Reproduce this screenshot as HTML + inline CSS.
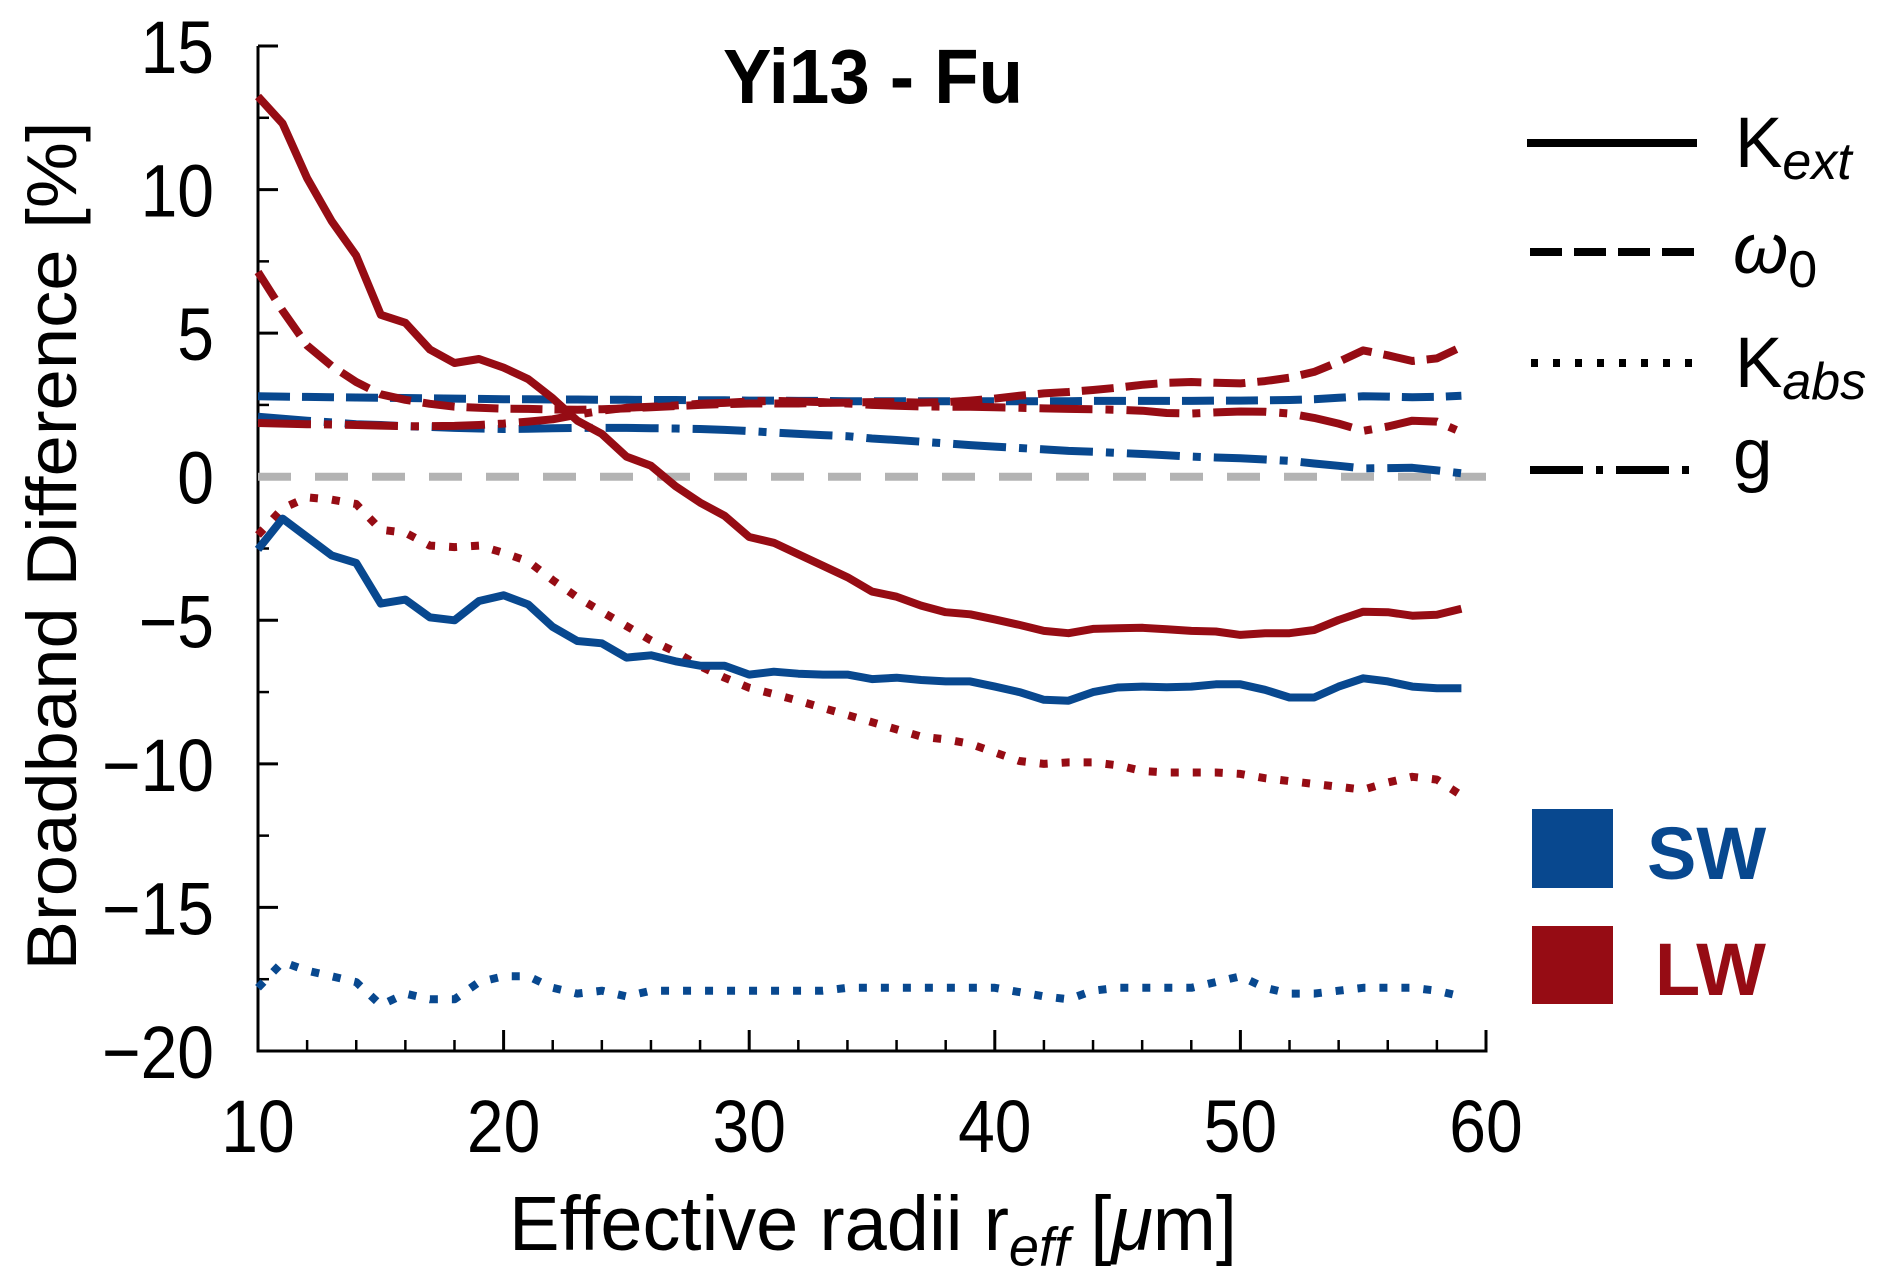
<!DOCTYPE html>
<html><head><meta charset="utf-8"><style>
html,body{margin:0;padding:0;background:#fff;}
svg{display:block;}
text{font-family:"Liberation Sans",Arial,sans-serif;}
</style></head><body>
<svg id="chart" width="1892" height="1280" viewBox="0 0 1892 1280" xmlns="http://www.w3.org/2000/svg">
<g id="axes"></g>
<g id="series"></g>
<text transform="translate(873,103) scale(1,1.1)" text-anchor="middle" font-size="70" font-weight="bold" textLength="300" lengthAdjust="spacingAndGlyphs">Yi13 - Fu</text>
<text transform="translate(76,546) rotate(-90) scale(1,1.1)" text-anchor="middle" font-size="64" textLength="849" lengthAdjust="spacingAndGlyphs">Broadband Difference [%]</text>
<text transform="translate(873,1250) scale(1,1.1)" text-anchor="middle" font-size="70" textLength="728" lengthAdjust="spacingAndGlyphs">Effective radii r<tspan font-style="italic" font-size="50" dy="14">eff</tspan><tspan dy="-14"> [</tspan><tspan font-style="italic">μ</tspan>m]</text>
<g font-family="DejaVu Sans, sans-serif">
  <line x1="1527" y1="143" x2="1697" y2="143" stroke="#000" stroke-width="8"/>
  <text x="1735" y="167" font-size="71" font-family="DejaVu Sans, sans-serif">K<tspan font-style="italic" font-size="52" dy="12">ext</tspan></text>
  <line x1="1530" y1="252" x2="1697" y2="252" stroke="#000" stroke-width="8" stroke-dasharray="32,12"/>
  <text x="1733" y="273" font-size="71" font-family="DejaVu Sans, sans-serif" font-style="italic">ω<tspan font-style="normal" font-size="52" dy="14">0</tspan></text>
  <line x1="1531" y1="363" x2="1697" y2="363" stroke="#000" stroke-width="8" stroke-dasharray="7,15"/>
  <text x="1735" y="387" font-size="71" font-family="DejaVu Sans, sans-serif">K<tspan font-style="italic" font-size="52" dy="12">abs</tspan></text>
  <line x1="1530" y1="470" x2="1697" y2="470" stroke="#000" stroke-width="8" stroke-dasharray="53,13,7,13"/>
  <text x="1733" y="478" font-size="71" font-family="DejaVu Sans, sans-serif">g</text>
</g>
<g>
  <rect x="1532" y="809" width="81" height="79" fill="#08488f"/>
  <text x="1647" y="879" font-size="74" font-weight="bold" fill="#08488f">SW</text>
  <rect x="1532" y="926" width="81" height="78" fill="#960c14"/>
  <text x="1655" y="995" font-size="74" font-weight="bold" fill="#960c14">LW</text>
</g>
</svg>
<script>
const xValues = [10,11,12,13,14,15,16,17,18,19,20,21,22,23,24,25,26,27,28,29,30,31,32,33,34,35,36,37,38,39,40,41,42,43,44,45,46,47,48,49,50,51,52,53,54,55,56,57,58,59];
const lwKext = [13.24,12.3,10.4,8.9,7.7,5.64,5.36,4.43,3.96,4.1,3.8,3.4,2.73,1.95,1.49,0.7,0.38,-0.33,-0.9,-1.36,-2.1,-2.3,-2.7,-3.1,-3.5,-4.0,-4.18,-4.49,-4.72,-4.79,-4.97,-5.16,-5.37,-5.45,-5.3,-5.28,-5.26,-5.31,-5.37,-5.39,-5.51,-5.45,-5.45,-5.34,-4.99,-4.7,-4.72,-4.84,-4.81,-4.6];
const swKext = [-2.53,-1.46,-2.1,-2.74,-3.0,-4.42,-4.28,-4.9,-5.0,-4.33,-4.13,-4.45,-5.23,-5.72,-5.8,-6.3,-6.22,-6.43,-6.58,-6.58,-6.89,-6.79,-6.86,-6.89,-6.89,-7.05,-7.0,-7.08,-7.13,-7.13,-7.31,-7.5,-7.77,-7.8,-7.5,-7.34,-7.31,-7.33,-7.31,-7.23,-7.23,-7.42,-7.69,-7.69,-7.31,-7.02,-7.13,-7.31,-7.37,-7.37];
const lwOmega = [7.13,5.78,4.57,3.86,3.3,2.87,2.68,2.54,2.44,2.4,2.37,2.36,2.34,2.33,2.35,2.38,2.42,2.46,2.5,2.53,2.55,2.55,2.55,2.57,2.58,2.6,2.6,2.58,2.6,2.65,2.72,2.82,2.9,2.95,3.02,3.1,3.2,3.27,3.3,3.27,3.25,3.33,3.45,3.65,4.0,4.4,4.23,4.03,4.12,4.52];
const swOmega = [2.8,2.79,2.78,2.77,2.76,2.75,2.74,2.73,2.72,2.71,2.7,2.7,2.69,2.69,2.68,2.68,2.67,2.67,2.66,2.66,2.65,2.65,2.64,2.64,2.63,2.63,2.63,2.63,2.63,2.63,2.63,2.63,2.63,2.63,2.64,2.64,2.64,2.64,2.64,2.65,2.65,2.66,2.67,2.7,2.75,2.8,2.79,2.77,2.78,2.82];
const lwKabs = [-2.03,-1.1,-0.72,-0.8,-0.95,-1.85,-1.95,-2.4,-2.45,-2.4,-2.65,-2.95,-3.6,-4.2,-4.7,-5.2,-5.7,-6.1,-6.6,-7.0,-7.35,-7.57,-7.8,-8.05,-8.3,-8.55,-8.8,-9.05,-9.15,-9.3,-9.6,-9.9,-10.0,-9.95,-9.95,-10.05,-10.25,-10.3,-10.3,-10.3,-10.35,-10.5,-10.6,-10.7,-10.8,-10.9,-10.65,-10.45,-10.55,-11.1];
const swKabs = [-17.8,-16.9,-17.2,-17.4,-17.6,-18.4,-18.0,-18.2,-18.2,-17.6,-17.4,-17.4,-17.8,-18.0,-17.9,-18.1,-17.9,-17.9,-17.9,-17.9,-17.9,-17.9,-17.9,-17.9,-17.8,-17.8,-17.8,-17.8,-17.8,-17.8,-17.8,-17.95,-18.1,-18.2,-17.9,-17.8,-17.8,-17.8,-17.8,-17.6,-17.4,-17.8,-18.0,-18.0,-17.9,-17.8,-17.8,-17.8,-17.9,-18.1];
const lwG = [1.87,1.85,1.83,1.82,1.8,1.78,1.76,1.76,1.77,1.8,1.85,1.92,2.0,2.16,2.3,2.4,2.44,2.48,2.54,2.57,2.62,2.64,2.62,2.6,2.55,2.5,2.47,2.45,2.44,2.44,2.42,2.4,2.38,2.36,2.35,2.33,2.3,2.22,2.2,2.24,2.27,2.26,2.2,2.05,1.85,1.6,1.75,1.95,1.92,1.55];
const swG = [2.09,2.02,1.95,1.89,1.83,1.8,1.76,1.73,1.7,1.68,1.66,1.67,1.69,1.7,1.7,1.7,1.69,1.68,1.66,1.63,1.59,1.54,1.49,1.45,1.41,1.33,1.28,1.22,1.16,1.1,1.05,1.0,0.95,0.9,0.87,0.83,0.79,0.75,0.7,0.67,0.64,0.6,0.55,0.46,0.38,0.29,0.3,0.31,0.22,0.12];
const yTicks = [15,10,5,0,-5,-10,-15,-20];
const yTickLabels = ["15","10","5","0","−5","−10","−15","−20"];
const xTicks = [10,20,30,40,50,60];
const xTickLabels = ["10","20","30","40","50","60"];

const NS = "http://www.w3.org/2000/svg";
const X0 = 258, X1 = 1486, Y0 = 46, Y1 = 1051;
function sx(v){ return X0 + (v - 10) / 50 * (X1 - X0); }
function sy(v){ return Y0 + (15 - v) / 35 * (Y1 - Y0); }
function mk(tag, parent){ const e = document.createElementNS(NS, tag); parent.appendChild(e); return e; }

const axes = document.getElementById("axes");
const series = document.getElementById("series");

const zl = mk("line", series);


zl.setAttribute("x1", X0); zl.setAttribute("x2", X1); zl.setAttribute("y1", sy(0)); zl.setAttribute("y2", sy(0));
zl.setAttribute("stroke", "#b3b3b3"); zl.setAttribute("stroke-width", 8); zl.setAttribute("stroke-dasharray", "33,24");

const ls = mk("line", axes);


ls.setAttribute("x1", X0); ls.setAttribute("x2", X0); ls.setAttribute("y1", Y0); ls.setAttribute("y2", Y1+1.5);
ls.setAttribute("stroke", "#000"); ls.setAttribute("stroke-width", 3);
const bs = mk("line", axes);


bs.setAttribute("x1", X0-1.5); bs.setAttribute("x2", X1+1.5); bs.setAttribute("y1", Y1); bs.setAttribute("y2", Y1);
bs.setAttribute("stroke", "#000"); bs.setAttribute("stroke-width", 3);

yTicks.forEach((v, i) => {
  const t = mk("line", axes);
  
  
  t.setAttribute("x1", X0); t.setAttribute("x2", X0 + 20); t.setAttribute("y1", sy(v)); t.setAttribute("y2", sy(v));
  t.setAttribute("stroke", "#000"); t.setAttribute("stroke-width", 3);
  if (v > -20) {
    const m = mk("line", axes);
    
    
    m.setAttribute("x1", X0); m.setAttribute("x2", X0 + 11); m.setAttribute("y1", sy(v - 2.5)); m.setAttribute("y2", sy(v - 2.5));
    m.setAttribute("stroke", "#000"); m.setAttribute("stroke-width", 2.5);
  }
  const lb = mk("text", axes);
  
  
  lb.setAttribute("transform", "translate(214," + (sy(v) + 27) + ") scale(1,1.13)");
  lb.setAttribute("text-anchor", "end"); lb.setAttribute("font-size", 66);
  lb.textContent = yTickLabels[i];
});
for (let v = 12; v < 60; v += 2) {
  if (v % 10 === 0) continue;
  const m = mk("line", axes);
  
  
  m.setAttribute("x1", sx(v)); m.setAttribute("x2", sx(v)); m.setAttribute("y1", Y1); m.setAttribute("y2", Y1 - 11);
  m.setAttribute("stroke", "#000"); m.setAttribute("stroke-width", 2.5);
}
xTicks.forEach((v, i) => {
  const t = mk("line", axes);
  
  
  t.setAttribute("x1", sx(v)); t.setAttribute("x2", sx(v)); t.setAttribute("y1", Y1); t.setAttribute("y2", Y1 - 21);
  t.setAttribute("stroke", "#000"); t.setAttribute("stroke-width", 3);
  const lb = mk("text", axes);
  
  
  lb.setAttribute("transform", "translate(" + sx(v) + ",1152) scale(1,1.13)");
  lb.setAttribute("text-anchor", "middle"); lb.setAttribute("font-size", 66);
  lb.textContent = xTickLabels[i];
});

const BLUE = "#08488f", RED = "#960c14";
const DASH = "32,12", DOT = "8,14", DASHDOT = "53,13,8,13";
function drawSeries(vals, color, dash, name){
  const p = mk("polyline", series);
  
  
  p.setAttribute("points", vals.map((v, i) => sx(xValues[i]).toFixed(1) + "," + sy(v).toFixed(1)).join(" "));
  p.setAttribute("fill", "none"); p.setAttribute("stroke", color); p.setAttribute("stroke-width", 8);
  p.setAttribute("stroke-linejoin", "round");
  if (dash) p.setAttribute("stroke-dasharray", dash);
}
drawSeries(swOmega, BLUE, DASH, "sw-omega-line");
drawSeries(swG, BLUE, DASHDOT, "sw-g-line");
drawSeries(lwG, RED, DASHDOT, "lw-g-line");
drawSeries(lwOmega, RED, DASH, "lw-omega-line");
drawSeries(swKabs, BLUE, DOT, "sw-kabs-line");
drawSeries(lwKabs, RED, DOT, "lw-kabs-line");
drawSeries(swKext, BLUE, null, "sw-kext-line");
drawSeries(lwKext, RED, null, "lw-kext-line");
</script>
</body></html>
